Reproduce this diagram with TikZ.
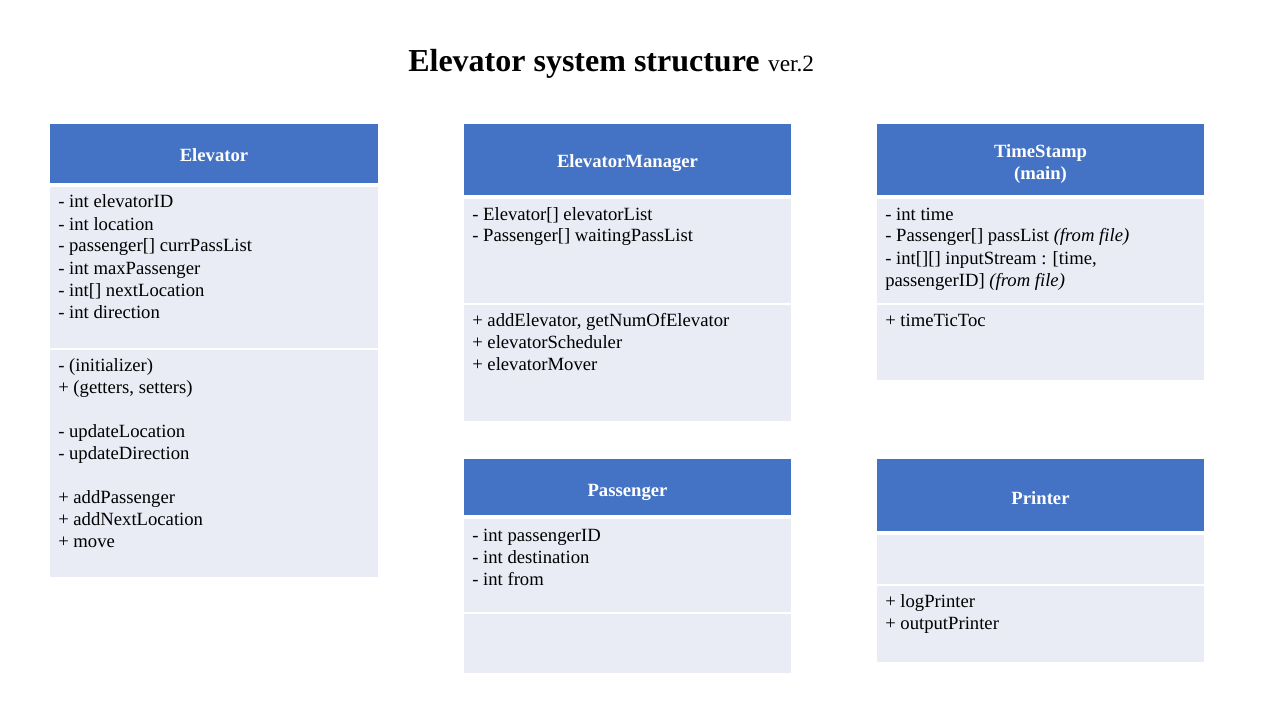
\documentclass[tikz,border=0pt]{standalone}
\usepackage{fontspec}
\setmainfont{Liberation Serif}
\definecolor{hdr}{HTML}{4472C4}
\definecolor{cell}{HTML}{E9EBF5}
\tikzset{
  body/.style={anchor=base west,inner sep=0pt,font=\fontsize{14}{16.5}\selectfont,text=black,yshift=-0.75pt},
  head/.style={anchor=base,inner sep=0pt,font=\fontsize{14}{16.5}\selectfont\bfseries,text=white,yshift=-0.75pt},
}
\begin{document}
\begin{tikzpicture}[x=0.75pt,y=-0.75pt]
\useasboundingbox (0,0) rectangle (1280,720);
% title
\node[anchor=base west,inner sep=0pt,font=\fontsize{24}{28}\selectfont\bfseries] (title) at (408,71.5) {Elevator system structure};
\node[anchor=base west,inner sep=0pt,font=\fontsize{17.5}{20}\selectfont] (ver) at ([xshift=6pt]title.base east) {ver.2};

% Elevator
\fill[hdr] (50,124) rectangle (378,183);
\fill[cell] (50,187) rectangle (378,348);
\fill[cell] (50,350) rectangle (378,577);
\node[head] (elh) at (214,161) {Elevator};
\node[body] (el1) at (58,207) {- int elevatorID};
\node[body] (el2) at (58,229) {- int location};
\node[body] (el3) at (58,251) {- passenger[] currPassList};
\node[body] (el4) at (58,273) {- int maxPassenger};
\node[body] (el5) at (58,295) {- int[] nextLocation};
\node[body] (el6) at (58,317) {- int direction};
\node[body] (em1) at (58,370) {- (initializer)};
\node[body] (em2) at (58,392) {+ (getters, setters)};
\node[body] (em3) at (58,436) {- updateLocation};
\node[body] (em4) at (58,458) {- updateDirection};
\node[body] (em5) at (58,502) {+ addPassenger};
\node[body] (em6) at (58,524) {+ addNextLocation};
\node[body] (em7) at (58,546) {+ move};

% ElevatorManager
\fill[hdr] (464,124) rectangle (791,195);
\fill[cell] (464,199) rectangle (791,303);
\fill[cell] (464,305) rectangle (791,421);
\node[head] (mgh) at (627.5,167) {ElevatorManager};
\node[body] (mg1) at (472,219) {- Elevator[] elevatorList};
\node[body] (mg2) at (472,241) {- Passenger[] waitingPassList};
\node[body] (mg3) at (472,325) {+ addElevator, getNumOfElevator};
\node[body] (mg4) at (472,347) {+ elevatorScheduler};
\node[body] (mg5) at (472,369) {+ elevatorMover};

% TimeStamp
\fill[hdr] (877,124) rectangle (1204,195);
\fill[cell] (877,199) rectangle (1204,303);
\fill[cell] (877,305) rectangle (1204,380);
\node[head] (tsh1) at (1040.5,157) {TimeStamp};
\node[head] (tsh2) at (1040.5,179) {(main)};
\node[body] (ts1) at (885,219) {- int time};
\node[body] (ts2) at (885,241) {- Passenger[] passList \textit{(from file)}};
\node[body] (ts3) at (885,263) {- int[][] inputStream : [time,};
\node[body] (ts4) at (885,285) {passengerID] \textit{(from file)}};
\node[body] (ts5) at (885,325) {+ timeTicToc};

% Passenger
\fill[hdr] (464,459) rectangle (791,515);
\fill[cell] (464,519) rectangle (791,612);
\fill[cell] (464,614) rectangle (791,673);
\node[head] (psh) at (627.5,495) {Passenger};
\node[body] (ps1) at (472,540) {- int passengerID};
\node[body] (ps2) at (472,562) {- int destination};
\node[body] (ps3) at (472,584) {- int from};

% Printer
\fill[hdr] (877,459) rectangle (1204,531);
\fill[cell] (877,535) rectangle (1204,584);
\fill[cell] (877,586) rectangle (1204,662);
\node[head] (prh) at (1040.5,503) {Printer};
\node[body] (pr1) at (885,606) {+ logPrinter};
\node[body] (pr2) at (885,628) {+ outputPrinter};
\end{tikzpicture}
\end{document}
